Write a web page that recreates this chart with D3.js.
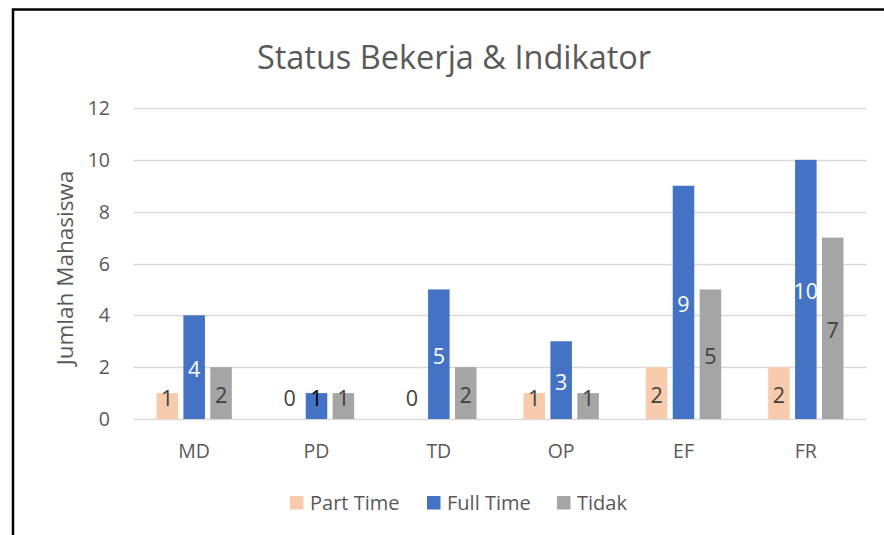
<!DOCTYPE html>
<html>
<head>
<meta charset="utf-8">
<script src="https://cdn.jsdelivr.net/npm/d3@7"></script>
<style>
  body { margin: 0; background: #fff; }
  svg text { font-family: "Open Sans", sans-serif; fill: #595959; }
</style>
</head>
<body>
<div id="chart"></div>
<script>
const categories = ['MD', 'PD', 'TD', 'OP', 'EF', 'FR'];
const seriesNames = ['Part Time', 'Full Time', 'Tidak'];
const partTime = [1, 0, 0, 1, 2, 2];
const fullTime = [4, 1, 5, 3, 9, 10];
const tidak = [2, 1, 2, 1, 5, 7];
const yTicks = [0, 2, 4, 6, 8, 10, 12];
const colors = ['#F8CBAD', '#4472C4', '#A5A5A5'];
const labelColors = ['#404040', '#ffffff', '#404040'];

const seriesValues = [partTime, fullTime, tidak];

const width = 884, height = 535;
const margin = { top: 108, right: 17, bottom: 116, left: 133 };

const svg = d3.select('#chart')
  .append('svg')
  .attr('width', width)
  .attr('height', height);

// outer frame
svg.append('path')
  .attr('d', `M13,${height + 5} L13,9.5 L${width + 5},9.5`)
  .attr('fill', 'none')
  .attr('stroke', '#000')
  .attr('stroke-width', 2.5);

const x0 = d3.scaleBand()
  .domain(categories)
  .range([margin.left, width - margin.right])
  .padding(0);

const groupPad = 23.5;
const x1 = d3.scaleBand()
  .domain(seriesNames)
  .range([0, x0.bandwidth() - 2 * groupPad])
  .paddingInner(0.2);

const y = d3.scaleLinear()
  .domain([0, 12])
  .range([height - margin.bottom, margin.top]);

// gridlines
svg.append('g')
  .selectAll('line')
  .data(yTicks)
  .enter()
  .append('line')
  .attr('x1', margin.left)
  .attr('x2', width - margin.right)
  .attr('y1', d => Math.round(y(d)) + 0.5)
  .attr('y2', d => Math.round(y(d)) + 0.5)
  .attr('stroke', '#D9D9D9')
  .attr('stroke-width', 1.5);

// y tick labels
svg.append('g')
  .selectAll('text')
  .data(yTicks)
  .enter()
  .append('text')
  .attr('x', 110)
  .attr('y', d => y(d))
  .attr('dy', '0.36em')
  .attr('text-anchor', 'end')
  .style('font-size', '19.5px')
  .text(d => d);

// y axis title
svg.append('text')
  .attr('transform', `translate(65, 268) rotate(-90)`)
  .attr('text-anchor', 'middle')
  .attr('dy', '0.35em')
  .style('font-size', '22.5px')
  .text('Jumlah Mahasiswa');

// x labels
svg.append('g')
  .selectAll('text')
  .data(categories)
  .enter()
  .append('text')
  .attr('x', d => x0(d) + x0.bandwidth() / 2)
  .attr('y', 451)
  .attr('dy', '0.36em')
  .attr('text-anchor', 'middle')
  .style('font-size', '19.5px')
  .text(d => d);

// title
svg.append('text')
  .attr('x', 454)
  .attr('y', 57)
  .attr('dy', '0.36em')
  .attr('text-anchor', 'middle')
  .style('font-size', '32.5px')
  .text('Status Bekerja & Indikator');

// bars
const rows = [];
categories.forEach((c, i) => {
  seriesNames.forEach((s, j) => {
    rows.push({ cat: c, series: s, idx: j, value: seriesValues[j][i] });
  });
});

const bars = svg.append('g')
  .selectAll('g')
  .data(rows)
  .enter()
  .append('g');

bars.append('rect')
  .attr('x', d => x0(d.cat) + groupPad + x1(d.series))
  .attr('y', d => y(d.value))
  .attr('width', x1.bandwidth())
  .attr('height', d => y(0) - y(d.value))
  .attr('fill', d => colors[d.idx]);

bars.append('text')
  .attr('x', d => x0(d.cat) + groupPad + x1(d.series) + x1.bandwidth() / 2)
  .attr('y', d => Math.min((y(d.value) + y(0)) / 2, y(0) - 23) + 2)
  .attr('dy', '0.36em')
  .attr('text-anchor', 'middle')
  .style('font-size', '21.5px')
  .style('fill', d => (y(0) - y(d.value) >= 30 ? labelColors[d.idx] : (d.idx === 1 ? '#000' : '#404040')))
  .text(d => d.value);

// legend
const legendX = [290, 427, 557];
const legend = svg.append('g')
  .selectAll('g')
  .data(seriesNames)
  .enter()
  .append('g')
  .attr('transform', (d, i) => `translate(${legendX[i]}, 503)`);

legend.append('rect')
  .attr('x', 0)
  .attr('y', -7)
  .attr('width', 13.5)
  .attr('height', 13.5)
  .attr('fill', (d, i) => colors[i]);

legend.append('text')
  .attr('x', 20)
  .attr('y', 0)
  .attr('dy', '0.36em')
  .style('font-size', '20px')
  .text(d => d);
</script>
</body>
</html>
